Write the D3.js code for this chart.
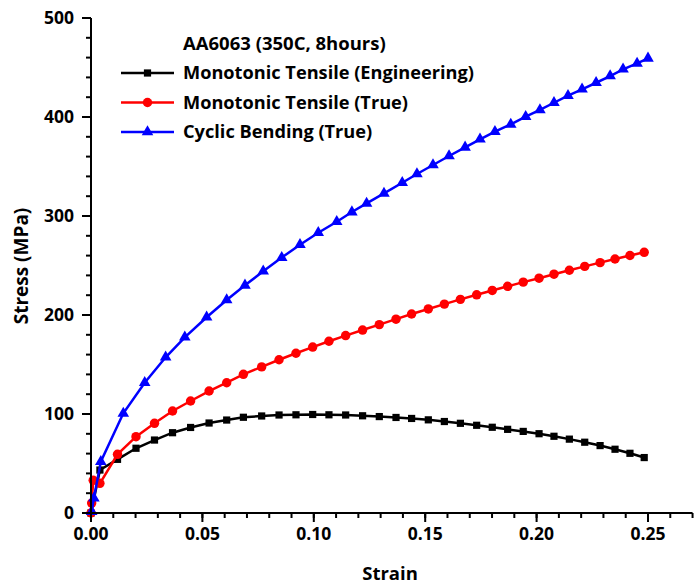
<!DOCTYPE html>
<html><head><meta charset="utf-8">
<script src="https://cdn.jsdelivr.net/npm/d3@7"></script>
<style>body{margin:0;background:#fff}svg{display:block}text{font-family:"Open Sans",sans-serif;font-weight:bold;fill:#000}</style>
</head><body>
<script>
const title = "AA6063 (350C, 8hours)";
const seriesNames = ["Monotonic Tensile (Engineering)", "Monotonic Tensile (True)", "Cyclic Bending (True)"];
const xTickLabels = ["0.00","0.05","0.10","0.15","0.20","0.25"];
const yTickLabels = ["0","100","200","300","400","500"];

const tensileStrain = [0.0, 0.004, 0.0119, 0.0202, 0.0285, 0.0366, 0.0447, 0.053, 0.0609, 0.0684, 0.0766, 0.0844, 0.092, 0.0995, 0.1068, 0.1143, 0.1219, 0.1294, 0.1369, 0.1439, 0.1514, 0.1586, 0.1658, 0.1731, 0.1801, 0.187, 0.194, 0.2011, 0.2078, 0.2147, 0.2216, 0.2285, 0.2352, 0.2419, 0.2483];
const engStress = [0, 43.4, 54.2, 65.4, 73.7, 81.1, 86.4, 90.9, 93.9, 96.7, 98.0, 99.0, 99.2, 99.5, 99.2, 99.0, 98.2, 97.4, 96.5, 95.5, 94.1, 92.4, 90.6, 88.6, 86.6, 84.5, 82.4, 80.1, 77.5, 74.6, 71.5, 68.1, 64.4, 60.3, 56.0];
const trueStrainT = [0.0, 0.0003, 0.001, 0.004, 0.0119, 0.0202, 0.0285, 0.0366, 0.0447, 0.053, 0.0609, 0.0684, 0.0766, 0.0844, 0.092, 0.0995, 0.1068, 0.1143, 0.1219, 0.1294, 0.1369, 0.1439, 0.1514, 0.1586, 0.1658, 0.1731, 0.1801, 0.187, 0.194, 0.2011, 0.2078, 0.2147, 0.2216, 0.2285, 0.2352, 0.2419, 0.2483];
const trueStressT = [0, 10, 33, 30, 59.3, 77.1, 90.6, 103.0, 113.1, 123.2, 131.6, 140.1, 147.6, 154.8, 161.4, 167.6, 173.5, 179.2, 184.8, 190.3, 195.8, 201.0, 206.1, 211.0, 215.8, 220.4, 224.8, 229.0, 233.2, 237.2, 241.2, 245.2, 249.1, 252.9, 256.6, 260.1, 263.3];
const bendStrain = [0.0003, 0.0013, 0.0044, 0.0145, 0.0241, 0.0335, 0.0421, 0.0519, 0.0609, 0.0691, 0.0773, 0.0856, 0.0938, 0.102, 0.1103, 0.1171, 0.1237, 0.1315, 0.1397, 0.1463, 0.1535, 0.1607, 0.1679, 0.1746, 0.1813, 0.1884, 0.1951, 0.2015, 0.2078, 0.2141, 0.2204, 0.2267, 0.233, 0.2388, 0.2451, 0.25];
const bendStress = [1.3, 15, 51.8, 100.7, 131.6, 157.3, 177.5, 197.7, 215.2, 230.0, 244.2, 258.0, 271.0, 283.1, 294.2, 304.0, 312.8, 322.9, 333.6, 342.4, 351.5, 360.6, 369.4, 377.5, 385.2, 392.6, 400.3, 407.1, 414.4, 421.5, 428.0, 434.6, 441.4, 448.2, 454.2, 459.3];
const colors = ["#000000", "#ff0000", "#0000ff"];

const W = 696, H = 586;
const x0 = 91, y0 = 513;
const x = d3.scaleLinear().domain([0, 0.25]).range([x0, 648]);
const y = d3.scaleLinear().domain([0, 500]).range([y0, 18]);
const xMax = 0.27;

const svg = d3.select("body").append("svg").attr("width", W).attr("height", H);

const series = [
  {name: seriesNames[0], xs: tensileStrain, ys: engStress, color: colors[0], sym: d3.symbolSquare, size: 52},
  {name: seriesNames[1], xs: trueStrainT, ys: trueStressT, color: colors[1], sym: d3.symbolCircle, size: 70},
  {name: seriesNames[2], xs: bendStrain, ys: bendStress, color: colors[2], sym: d3.symbolTriangle, size: 58}
];

const line = d3.line().x(d => x(d[0])).y(d => y(d[1]));
series.forEach(s => {
  const pts = s.xs.map((v, i) => [v, s.ys[i]]);
  svg.append("path").attr("d", line(pts)).attr("fill", "none").attr("stroke", s.color).attr("stroke-width", 2.5);
  svg.append("g").selectAll("path").data(pts).join("path")
    .attr("transform", d => `translate(${x(d[0])},${y(d[1])})`)
    .attr("d", d3.symbol().type(s.sym).size(s.size))
    .attr("fill", s.color);
});

// Axes
const xAxisG = svg.append("g").attr("transform", `translate(0,${y0})`);
xAxisG.append("line").attr("x1", x0).attr("x2", x(xMax)).attr("stroke", "#000").attr("stroke-width", 2);
const xMinor = d3.range(0, 28).map(i => i * 0.01).filter(v => v <= xMax + 1e-9);
xAxisG.selectAll("line.mn").data(xMinor).join("line").attr("class", "mn")
  .attr("x1", d => x(d)).attr("x2", d => x(d)).attr("y1", 0).attr("y2", 5).attr("stroke", "#000").attr("stroke-width", 2);
const xMajor = xTickLabels.map(Number);
xAxisG.selectAll("line.mj").data(xMajor).join("line").attr("class", "mj")
  .attr("x1", d => x(d)).attr("x2", d => x(d)).attr("y1", 0).attr("y2", 9).attr("stroke", "#000").attr("stroke-width", 2);
xAxisG.selectAll("text").data(xTickLabels).join("text")
  .attr("x", d => x(+d)).attr("y", 27).attr("text-anchor", "middle").style("font-size", "17.5px").text(d => d);

const yAxisG = svg.append("g").attr("transform", `translate(${x0},0)`);
yAxisG.append("line").attr("y1", y(0)).attr("y2", y(500)).attr("stroke", "#000").attr("stroke-width", 2);
const yMinor = d3.range(0, 26).map(i => i * 20);
yAxisG.selectAll("line.mn").data(yMinor).join("line").attr("class", "mn")
  .attr("y1", d => y(d)).attr("y2", d => y(d)).attr("x1", 0).attr("x2", -5).attr("stroke", "#000").attr("stroke-width", 2);
const yMajor = yTickLabels.map(Number);
yAxisG.selectAll("line.mj").data(yMajor).join("line").attr("class", "mj")
  .attr("y1", d => y(d)).attr("y2", d => y(d)).attr("x1", 0).attr("x2", -9).attr("stroke", "#000").attr("stroke-width", 2);
yAxisG.selectAll("text").data(yTickLabels).join("text")
  .attr("x", -17).attr("y", d => y(+d)).attr("dy", "0.35em").attr("text-anchor", "end").style("font-size", "17.5px").text(d => d);

svg.append("text").attr("x", 390).attr("y", 580).attr("text-anchor", "middle").style("font-size", "18.5px").text("Strain");
svg.append("text").attr("transform", "translate(28,266) rotate(-90)").attr("text-anchor", "middle").style("font-size", "19px").text("Stress (MPa)");

// Legend
const lg = svg.append("g");
lg.append("text").attr("x", 183).attr("y", 44).attr("dy", "0.35em").style("font-size", "18.5px").text(title);
series.forEach((s, i) => {
  const yy = 73 + i * 29.5;
  lg.append("line").attr("x1", 121).attr("x2", 174).attr("y1", yy).attr("y2", yy).attr("stroke", s.color).attr("stroke-width", 2.5);
  lg.append("path").attr("transform", `translate(147.5,${yy})`).attr("d", d3.symbol().type(s.sym).size(s.size)).attr("fill", s.color);
  lg.append("text").attr("x", 183).attr("y", yy).attr("dy", "0.35em").style("font-size", "18.2px").text(s.name);
});
</script>
</body></html>
